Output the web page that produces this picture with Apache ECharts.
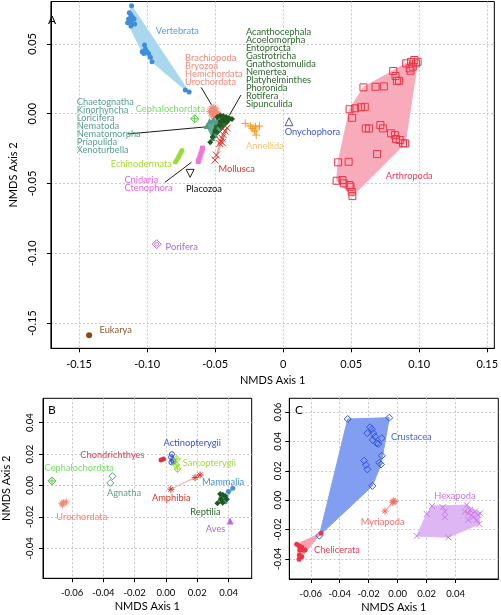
<!DOCTYPE html>
<html><head><meta charset="utf-8">
<script src="https://cdn.jsdelivr.net/npm/echarts@6/dist/echarts.min.js"></script>
<style>html,body{margin:0;padding:0;background:#fff}#c{width:501px;height:615px}</style>
</head><body><div id="c"></div>
<script>
// ---------- tick labels ----------
const ticksAX = [-0.15,-0.10,-0.05,0,0.05,0.10,0.15];
const ticksAY = [-0.15,-0.10,-0.05,0,0.05];
const ticksBX = [-0.06,-0.04,-0.02,0,0.02,0.04];
const ticksBY = [-0.04,-0.02,0,0.02,0.04];
const ticksCX = [-0.06,-0.04,-0.02,0,0.02,0.04];
const ticksCY = [-0.04,-0.02,0,0.02,0.04,0.06];

// ---------- Panel A data ----------
const A_vertebrata = [[-0.1114,0.0774],[-0.1131,0.0723],[-0.1119,0.0707],[-0.1107,0.0691],[-0.1136,0.0678],[-0.1124,0.0666],[-0.1096,0.0678],[-0.1143,0.0652],[-0.1112,0.0648],[-0.1091,0.0643],[-0.1119,0.0629],[-0.1019,0.0492],[-0.1012,0.0463],[-0.1036,0.0444],[-0.1000,0.0444],[-0.1024,0.0432],[-0.0989,0.0432],[-0.0976,0.0404],[-0.0964,0.0372],[-0.0719,0.0170],[-0.0691,0.0155]];
const A_brachiopoda = [[-0.0530,0.0040],[-0.0510,0.0048],[-0.0495,0.0035],[-0.0540,0.0015],[-0.0520,0.0010],[-0.0500,0.0012],[-0.0480,0.0005],[-0.0525,-0.0015],[-0.0505,-0.0020],[-0.0485,-0.0028],[-0.0470,-0.0010]];
const A_acanthocephala = [[-0.0484,-0.0024],[-0.0462,-0.0013],[-0.0441,-0.0016],[-0.0419,-0.0024],[-0.0398,-0.0031],[-0.0376,-0.0038],[-0.0434,-0.0045],[-0.0455,-0.0052],[-0.0412,-0.0056],[-0.0469,-0.0081],[-0.0498,-0.0124],[-0.0519,-0.0167],[-0.0536,-0.0205]];
const A_chaetognatha = [[-0.0562,-0.0088],[-0.0541,-0.0052],[-0.0512,-0.0042],[-0.0491,-0.0059],[-0.0476,-0.0102],[-0.0498,-0.0153],[-0.0519,-0.0174]];
const A_cephalochordata = [[-0.0650,-0.0036]];
const A_echinodermata = [[-0.0744,-0.0264],[-0.0751,-0.0278],[-0.0762,-0.0296],[-0.0769,-0.0310],[-0.0780,-0.0328],[-0.0791,-0.0346]];
const A_cnidaria = [[-0.0593,-0.0246],[-0.0598,-0.0267],[-0.0605,-0.0289],[-0.0612,-0.0310],[-0.0619,-0.0328],[-0.0624,-0.0342]];
const A_placozoa = [[-0.0684,-0.0427]];
const A_mollusca = [[-0.0412,-0.0102],[-0.0426,-0.0124],[-0.0441,-0.0149],[-0.0451,-0.0174],[-0.0459,-0.0196],[-0.0448,-0.0206],[-0.0466,-0.0213],[-0.0491,-0.0296],[-0.0501,-0.0332]];
const A_annellida = [[-0.0279,-0.0069],[-0.0239,-0.0088],[-0.0203,-0.0093],[-0.0174,-0.0088],[-0.0210,-0.0122],[-0.0198,-0.0153],[-0.0226,-0.0105]];
const A_onychophora = [[0.0043,-0.0057]];
const A_arthropoda = [[0.0988,0.0372],[0.0964,0.0385],[0.0940,0.0372],[0.0976,0.0361],[0.0952,0.0337],[0.0929,0.0325],[0.0904,0.0361],[0.0936,0.0308],[0.0809,0.0306],[0.0826,0.0270],[0.0852,0.0236],[0.0836,0.0236],[0.0590,0.0189],[0.0679,0.0193],[0.0740,0.0196],[0.0488,0.0032],[0.0529,0.0039],[0.0571,0.0046],[0.0600,0.0050],[0.0507,-0.0029],[0.0607,-0.0105],[0.0631,-0.0105],[0.0714,-0.0081],[0.0733,-0.0105],[0.0793,-0.0140],[0.0821,-0.0153],[0.0829,-0.0181],[0.0857,-0.0188],[0.0881,-0.0212],[0.0897,-0.0212],[0.0690,-0.0289],[0.0404,-0.0348],[0.0481,-0.0344],[0.0393,-0.0480],[0.0436,-0.0475],[0.0445,-0.0499],[0.0488,-0.0511],[0.0495,-0.0523],[0.0504,-0.0559],[0.0509,-0.0590]];
const A_porifera = [[-0.0929,-0.0934]];
const A_eukarya = [[-0.1426,-0.1587]];

// ---------- Panel B data ----------
const B_cephalochordata = [[-0.0729,0.0029]];
const B_agnatha = [[-0.0342,0.0059],[-0.0356,0.0016]];
const B_urochordata = [[-0.0665,-0.0113],[-0.0655,-0.0110],[-0.0637,-0.0105],[-0.0661,-0.0124]];
const B_chondrichthyes = [[-0.0031,0.0162],[-0.0016,0.0169]];
const B_actinopterygii = [[0.0038,0.0199],[0.0033,0.0180],[0.0044,0.0162],[0.0035,0.0148],[0.0048,0.0152]];
const B_sarcopterygii = [[0.0070,0.0169],[0.0065,0.0131],[0.0074,0.0105]];
const B_amphibia = [[0.0031,-0.0024],[0.0186,0.0050],[0.0218,0.0067]];
const B_mammalia = [[0.0427,-0.0018],[0.0399,-0.0039],[0.0378,-0.0103]];
const B_reptilia = [[0.0346,-0.0054],[0.0363,-0.0059],[0.0378,-0.0067],[0.0389,-0.0088],[0.0352,-0.0088],[0.0329,-0.0113],[0.0363,-0.0110]];
const B_aves = [[0.0410,-0.0226]];

// ---------- Panel C data ----------
const C_crustacea = [[-0.0345,0.0553],[-0.0058,0.0562],[-0.0191,0.0497],[-0.0179,0.0483],[-0.0210,0.0456],[-0.0168,0.0456],[-0.0157,0.0433],[-0.0172,0.0410],[-0.0145,0.0388],[-0.0134,0.0383],[-0.0110,0.0422],[-0.0110,0.0303],[-0.0127,0.0255],[-0.0115,0.0243],[-0.0232,0.0269],[-0.0219,0.0240],[-0.0210,0.0210],[-0.0175,0.0097],[-0.0541,-0.0242]];
const C_chelicerata = [[-0.0697,-0.0300],[-0.0679,-0.0312],[-0.0662,-0.0321],[-0.0651,-0.0339],[-0.0674,-0.0339],[-0.0640,-0.0339],[-0.0679,-0.0373],[-0.0662,-0.0385],[-0.0681,-0.0403],[-0.0529,-0.0225]];
const C_myriapoda = [[-0.0030,-0.0005],[-0.0019,-0.0010],[-0.0034,-0.0014],[-0.0088,-0.0074]];
const C_hexapoda = [[0.0131,-0.0244],[0.0200,-0.0094],[0.0237,-0.0040],[0.0310,-0.0048],[0.0326,-0.0078],[0.0326,-0.0116],[0.0349,-0.0253],[0.0476,-0.0033],[0.0464,-0.0078],[0.0487,-0.0089],[0.0499,-0.0067],[0.0510,-0.0101],[0.0521,-0.0116],[0.0533,-0.0078],[0.0556,-0.0101],[0.0545,-0.0135],[0.0563,-0.0162],[0.0487,-0.0135],[0.0568,-0.0089]];

// ---------- styling (not data) ----------
const FONT = 'Lato';
const SYM = {
  ast: 'path://M5,0L5,10M0,5L10,5M1.5,1.5L8.5,8.5M8.5,1.5L1.5,8.5',
  plus: 'path://M5,0L5,10M0,5L10,5',
  cross: 'path://M0,0L10,10M10,0L0,10',
  dplus: 'path://M5,0L10,5L5,10L0,5ZM5,0L5,10M0,5L10,5',
  ddia: 'path://M5,0L10,5L5,10L0,5ZM5,2.5L7.5,5L5,7.5L2.5,5Z'
};
// [panel, data, symbol, size, color, open, hullColor, rotate]
const groups = [
  [0, A_vertebrata, 'circle', 5, '#3f8fd8', false, '#a9d8ee'],
  [0, A_brachiopoda, SYM.ast, 7, '#f08878', true, '#f4a496'],
  [0, A_chaetognatha, 'triangle', 6, '#4f9a88', false, '#64a898'],
  [0, A_acanthocephala, 'diamond', 6, '#1e5a1e', false, '#2a662a'],
  [0, A_cephalochordata, SYM.dplus, 8, '#55cc44', true, null],
  [0, A_echinodermata, 'circle', 5, '#99dd33', false, '#c4ec88'],
  [0, A_cnidaria, 'rect', 5, '#ee77dd', false, '#f4a8ee'],
  [0, A_placozoa, 'triangle', 8, '#222', true, null, 180],
  [0, A_mollusca, SYM.cross, 7, '#e03328', true, '#f3a8a0'],
  [0, A_annellida, SYM.plus, 8, '#f0a030', true, '#f8d495'],
  [0, A_onychophora, 'triangle', 8, '#4455cc', true, null],
  [0, A_arthropoda, 'rect', 7, '#ee3344', true, '#f8abbb'],
  [0, A_porifera, SYM.ddia, 9, '#bb66dd', true, null],
  [0, A_eukarya, 'circle', 6, '#8b4a10', false, null],
  [1, B_cephalochordata, SYM.dplus, 8, '#55cc44', true, null],
  [1, B_agnatha, 'diamond', 7, '#4f9a88', true, null],
  [1, B_urochordata, SYM.ast, 7, '#f08878', true, '#f6b0a4'],
  [1, B_chondrichthyes, 'circle', 5, '#e03040', false, null],
  [1, B_actinopterygii, 'circle', 5, '#3355dd', true, '#8fa4ef'],
  [1, B_sarcopterygii, SYM.dplus, 7, '#99dd33', true, null],
  [1, B_amphibia, SYM.ast, 7, '#e03328', true, '#f6b8b0'],
  [1, B_mammalia, 'circle', 5, '#4a90d9', false, '#9cc6ee'],
  [1, B_reptilia, 'diamond', 6, '#1e5a1e', false, '#5f905f'],
  [1, B_aves, 'triangle', 7, '#bb66ee', false, null],
  [2, C_crustacea, 'diamond', 7, '#3355dd', true, '#829ef0'],
  [2, C_chelicerata, 'circle', 5, '#ee3344', false, '#f6a2b2'],
  [2, C_myriapoda, SYM.ast, 7, '#f07060', true, '#f6b0a4'],
  [2, C_hexapoda, SYM.cross, 6, '#cc77ee', true, '#dfb6f4']
];
// label anchors in data units: [panel, x, y, text, color, valign]
const labels = [
  [0,-0.0936,0.0592,'Vertebrata','#5b9bd8','middle'],
  [0,-0.0721,0.0426,'Brachiopoda\nBryozoa\nHemichordata\nUrochordata','#f08a7a','top'],
  [0,-0.0274,0.0616,'Acanthocephala\nAcoelomorpha\nEntoprocta\nGastrotricha\nGnathostomulida\nNemertea\nPlatyhelminthes\nPhoronida\nRotifera\nSipunculida','#2d6a2d','top'],
  [0,-0.1517,0.0115,'Chaetognatha\nKinorhyncha\nLoricifera\nNematoda\nNematomorpha\nPriapulida\nXenoturbella','#5aa090','top'],
  [0,-0.1084,0.0032,'Cephalochordata','#77dd66','middle'],
  [0,-0.1267,-0.0358,'Echinodermata','#a5dd33','middle'],
  [0,-0.1167,-0.0446,'Cnidaria\nCtenophora','#ee66dd','top'],
  [0,-0.0714,-0.0539,'Placozoa','#111','middle'],
  [0,-0.0476,-0.0398,'Mollusca','#dd3322','middle'],
  [0,-0.0274,-0.0229,'Annellida','#f5c57a','middle'],
  [0,0.0011,-0.0129,'Onychophora','#4455cc','middle'],
  [0,0.0754,-0.0446,'Arthropoda','#e0405a','middle'],
  [0,-0.0864,-0.0953,'Porifera','#aa66dd','middle'],
  [0,-0.1350,-0.1552,'Eukarya','#8b5a2b','middle'],
  [1,-0.0776,0.0111,'Cephalochordata','#77dd66','middle'],
  [1,-0.0377,-0.0050,'Agnatha','#5aa090','middle'],
  [1,-0.0701,-0.0203,'Urochordata','#f08a7a','middle'],
  [1,-0.0548,0.0196,'Chondrichthyes','#e0405a','middle'],
  [1,-0.0016,0.0269,'Actinopterygii','#3355dd','middle'],
  [1,0.0108,0.0145,'Sarcopterygii','#a5dd33','middle'],
  [1,-0.0090,-0.0082,'Amphibia','#dd3322','middle'],
  [1,0.0231,0.0022,'Mammalia','#4a90d9','middle'],
  [1,0.0155,-0.0167,'Reptilia','#2d6a2d','middle'],
  [1,0.0255,-0.0279,'Aves','#aa66ee','middle'],
  [2,-0.0046,0.0433,'Crustacea','#4466dd','middle'],
  [2,-0.0255,-0.0149,'Myriapoda','#f07070','middle'],
  [2,-0.0577,-0.0339,'Chelicerata','#e0405a','middle'],
  [2,0.0252,0.0029,'Hexapoda','#bb77ee','middle']
];
// leader lines (data units)
const leaders = [
  [[-0.0603,0.0189],[-0.0524,0.0060]],
  [[-0.0310,0.0134],[-0.0394,-0.0009]],
  [[-0.1143,-0.0145],[-0.0555,-0.0093]],
  [[-0.0869,-0.0491],[-0.0674,-0.0348]]
];

function hull(pts){
  const p = pts.slice().sort((a,b)=>a[0]-b[0]||a[1]-b[1]);
  if (p.length < 3) return p;
  const cr=(o,a,b)=>(a[0]-o[0])*(b[1]-o[1])-(a[1]-o[1])*(b[0]-o[0]);
  const lo=[],up=[];
  for(const q of p){while(lo.length>=2&&cr(lo[lo.length-2],lo[lo.length-1],q)<=0)lo.pop();lo.push(q);}
  for(let i=p.length-1;i>=0;i--){const q=p[i];while(up.length>=2&&cr(up[up.length-2],up[up.length-1],q)<=0)up.pop();up.push(q);}
  up.pop();lo.pop();return lo.concat(up);
}

const grids = [
  {left:42.7, top:1.5, width:456.3, height:346.8},
  {left:42.7, top:398.3, width:209, height:180},
  {left:289.3, top:398.3, width:209, height:180.7}
].map(g=>Object.assign(g,{show:true,borderColor:'#000',borderWidth:1,backgroundColor:'rgba(0,0,0,0)',containLabel:false}));

const ranges = [
  {x:[-0.1707,0.1552], y:[-0.168,0.0804], xt:ticksAX, yt:ticksAY, fs:11, xm:11, ym:13, ng:27, yng:31, yname:true, zeroX:'0'},
  {x:[-0.0786,0.0548], y:[-0.0591,0.0555], xt:ticksBX, yt:ticksBY, fs:9.5, xm:10, ym:8, ng:23, yng:31, yname:true},
  {x:[-0.0748,0.0694], y:[-0.0537,0.0694], xt:ticksCX, yt:ticksCY, fs:9.5, xm:10, ym:6, ng:23, yng:31, yname:false}
];
const split = {show:true, lineStyle:{color:'#c8c8c8', type:[2,2], width:1}};
const xAxis = ranges.map((r,i)=>({
  gridIndex:i, type:'value', min:r.x[0], max:r.x[1],
  axisLine:{show:true,onZero:false,lineStyle:{color:'#000',width:1}},
  axisTick:{show:true,length:4,customValues:r.xt,lineStyle:{color:'#000'}},
  axisLabel:{customValues:r.xt,fontSize:r.fs,fontFamily:FONT,color:'#000',margin:r.xm,
    formatter:v=>(Math.abs(v)<1e-9?(r.zeroX||'0.00'):v.toFixed(2))},
  splitLine:split,
  name:'NMDS Axis 1', nameLocation:'middle', nameGap:r.ng,
  nameTextStyle:{fontSize:11,fontFamily:FONT,color:'#000'}
}));
const yAxis = ranges.map((r,i)=>({
  gridIndex:i, type:'value', min:r.y[0], max:r.y[1],
  axisLine:{show:true,onZero:false,lineStyle:{color:'#000',width:1}},
  axisTick:{show:true,length:4,customValues:r.yt,lineStyle:{color:'#000'}},
  axisLabel:{customValues:r.yt,fontSize:r.fs,fontFamily:FONT,color:'#000',margin:r.ym,rotate:90,
    formatter:v=>(Math.abs(v)<1e-9?'0.00':v.toFixed(2))},
  splitLine:split,
  name:r.yname?'NMDS Axis 2':'', nameLocation:'middle', nameGap:r.yng,
  nameTextStyle:{fontSize:11,fontFamily:FONT,color:'#000'}
}));

const series = [];
groups.forEach(g=>{
  const [p,data,sym,size,col,open,hc,rot] = g;
  if (hc && data.length>=2){
    const h = hull(data);
    series.push({type:'custom', xAxisIndex:p, yAxisIndex:p, silent:true, z:1, data:[data[0]],
      renderItem:(params,api)=>({type:'polygon', shape:{points:h.map(q=>api.coord(q))},
        style:{fill:hc, stroke:hc, lineWidth:1}})});
  }
  series.push({type:'scatter', xAxisIndex:p, yAxisIndex:p, silent:true, z:3, data:data,
    symbol:sym, symbolSize:size, symbolRotate:rot||0,
    itemStyle:open?{color:'rgba(0,0,0,0)',borderColor:col,borderWidth:1,opacity:1}:{color:col,opacity:1}});
});
leaders.forEach(l=>{
  series.push({type:'line', xAxisIndex:0, yAxisIndex:0, silent:true, z:2, data:l, symbol:'none',
    lineStyle:{color:'#000',width:0.9}});
});
[0,1,2].forEach(p=>{
  const L = labels.filter(l=>l[0]===p);
  series.push({type:'custom', xAxisIndex:p, yAxisIndex:p, silent:true, z:5,
    data:L.map(l=>[l[1],l[2]]),
    renderItem:(params,api)=>{
      const l = L[params.dataIndex];
      const c = api.coord([l[1],l[2]]);
      return {type:'text', x:c[0], y:c[1], style:{text:l[3], fill:l[4], fontSize:9.3, fontFamily:FONT,
        lineHeight:8, align:'left', verticalAlign:l[5]}};
    }});
});

const chart = echarts.init(document.getElementById('c'), null, {renderer:'canvas'});
chart.setOption({
  animation:false,
  grid:grids, xAxis:xAxis, yAxis:yAxis, series:series,
  graphic:[
    {type:'text', left:48, top:14, style:{text:'A', fontSize:12, fontFamily:FONT, fill:'#000'}},
    {type:'text', left:48, top:404, style:{text:'B', fontSize:12, fontFamily:FONT, fill:'#000'}},
    {type:'text', left:295, top:404, style:{text:'C', fontSize:12, fontFamily:FONT, fill:'#000'}}
  ]
});
</script></body></html>
